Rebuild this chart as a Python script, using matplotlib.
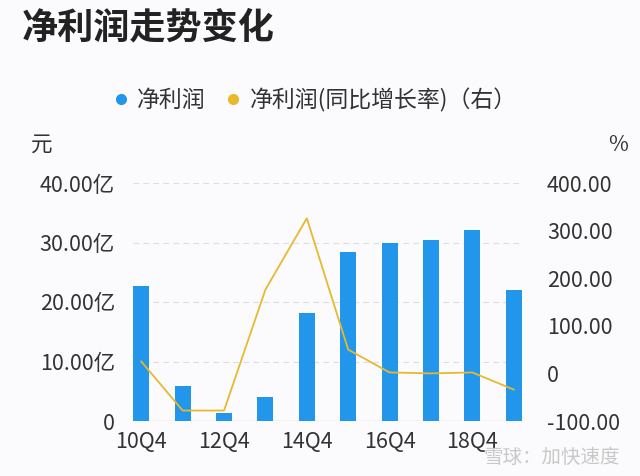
import matplotlib.pyplot as plt
from matplotlib.lines import Line2D
import numpy as np

plt.rcParams['font.family'] = ['Noto Sans CJK SC', 'DejaVu Sans']

quarters = ['10Q4', '11Q4', '12Q4', '13Q4', '14Q4', '15Q4', '16Q4', '17Q4', '18Q4', '19Q4']
tick_labels = ['10Q4', '', '12Q4', '', '14Q4', '', '16Q4', '', '18Q4', '']
profit = [22.7, 5.9, 1.3, 4.0, 18.2, 28.4, 29.9, 30.4, 32.1, 22.0]   # 亿元
growth = [25, -78, -78, 176, 326, 50, 2, 0, 2, -34]                  # %

bar_color = '#2196ea'
line_color = '#e8b92c'
text_color = '#333333'
bg = '#fbfbfd'

fig = plt.figure(figsize=(6.4, 4.76), dpi=100, facecolor=bg)
ax = fig.add_axes([133/640, 1-421/476, 389/640, 238/476])
ax.set_facecolor(bg)
x = np.arange(len(quarters))
ax.bar(x, profit, width=0.39, color=bar_color, zorder=2)
ax.set_xlim(-0.2, 9.2)
ax.set_ylim(0, 40)
ax.set_yticks([0, 10, 20, 30, 40])
ax.set_yticklabels(['0', '10.00亿', '20.00亿', '30.00亿', '40.00亿'])
ax.set_xticks(x)
ax.set_xticklabels(tick_labels)
ax.grid(axis='y', color='#dddddd', linestyle=(0, (5, 4)), linewidth=0.8, zorder=0)
for s in ax.spines.values():
    s.set_visible(False)
ax.axhline(0, color='#e0e0e0', linewidth=1, zorder=1)
ax.tick_params(length=0, labelsize=15.5, colors=text_color)
ax.tick_params(axis='y', pad=13)
ax.tick_params(axis='x', pad=7)

ax2 = ax.twinx()
ax2.plot(x, growth, color=line_color, linewidth=1.3, zorder=3)
ax2.set_ylim(-100, 400)
ax2.set_yticks([-100, 0, 100, 200, 300, 400])
ax2.set_yticklabels(['-100.00', '0', '100.00', '200.00', '300.00', '400.00'])
for s in ax2.spines.values():
    s.set_visible(False)
ax2.tick_params(length=0, labelsize=15.5, colors=text_color, pad=18)

fig.text(22/640, 1-28/476, '净利润走势变化', fontsize=26, fontweight='bold',
         color='#222222', va='center', ha='left')
fig.text(42/640, 1-145/476, '元', fontsize=15.5, color=text_color, va='center', ha='center')
fig.text(618/640, 1-145/476, '%', fontsize=15.5, color=text_color, va='center', ha='center')

handles = [Line2D([], [], marker='o', linestyle='', color=bar_color, markersize=7),
           Line2D([], [], marker='o', linestyle='', color=line_color, markersize=7)]
fig.legend(handles, ['净利润', '净利润(同比增长率)（右）'], loc='center',
           bbox_to_anchor=(312/640, 1-100/476), ncol=2, frameon=False,
           fontsize=16.5, handletextpad=0.1, columnspacing=0.6,
           handlelength=1.2, labelcolor=text_color)

fig.text(620/640, 1-457/476, '雪球：加快速度', fontsize=14, color='#c8c8c8',
         va='center', ha='right')

fig.savefig('out.png', dpi=100, facecolor=bg)
